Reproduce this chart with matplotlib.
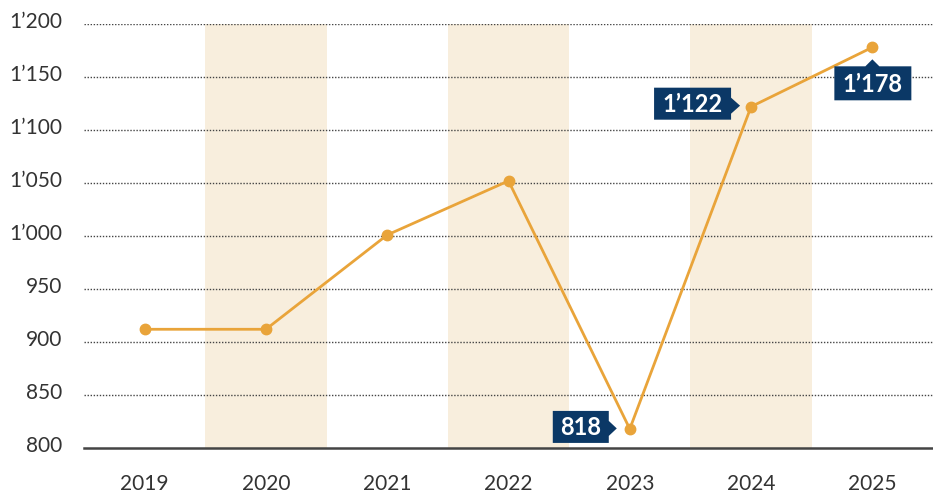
import matplotlib
matplotlib.use("Agg")
import matplotlib.pyplot as plt
import matplotlib.transforms as mtrans
from matplotlib.patches import Polygon
from matplotlib.transforms import ScaledTranslation

years = ["2019", "2020", "2021", "2022", "2023", "2024", "2025"]
values = [912, 912, 1001, 1052, 818, 1122, 1178]
yticks = [800, 850, 900, 950, 1000, 1050, 1100, 1150, 1200]
ytick_labels = ["800", "850", "900", "950", "1\u2019000", "1\u2019050", "1\u2019100", "1\u2019150", "1\u2019200"]
labelled = {4: "818", 5: "1\u2019122", 6: "1\u2019178"}

plt.rcParams['font.family'] = ['Lato', 'DejaVu Sans']

fig = plt.figure(figsize=(9.33, 4.93), dpi=100)
ax = fig.add_axes([84/933, 1 - 448/493, 849/933, 424/493])

line_c = "#E9A43A"
band_c = "#F8EEDD"
navy = "#0B3866"
text_c = "#333333"

x = list(range(len(years)))
for i in x:
    if i % 2 == 1:
        ax.axvspan(i - 0.5, i + 0.5, color=band_c, lw=0, zorder=0)

for t in yticks[1:]:
    ax.axhline(t, color="#444444", lw=1.0, ls=(0, (1, 1.2)), zorder=1)

ax.plot(x, values, color=line_c, lw=2, marker="o", ms=7.5, zorder=3)

ax.set_xlim(-0.5, len(years) - 0.5)
ax.set_ylim(800, 1200)
ax.set_xticks(x)
ax.set_xticklabels(years)
ax.set_yticks(yticks)
ax.set_yticklabels(ytick_labels)
ax.tick_params(axis="both", length=0, labelsize=15, colors=text_c)
ax.tick_params(axis="x", pad=19)
ax.tick_params(axis="y", pad=16)
for lbl in ax.get_yticklabels():
    lbl.set_transform(lbl.get_transform() + ScaledTranslation(0, 4/100, fig.dpi_scale_trans))
for s in ["top", "right", "left"]:
    ax.spines[s].set_visible(False)
ax.spines["bottom"].set_color("#444444")
ax.spines["bottom"].set_linewidth(1.8)

# callout shapes in pixel offsets from the data point (display coords, y up)
shapes = {
    4: [(-77, -14), (-21, -14), (-21, -7), (-13, 0.5), (-21, 8), (-21, 18), (-77, 18)],
    5: [(-97, -13), (-20, -13), (-20, -7), (-11, 1), (-20, 9), (-20, 19), (-97, 19)],
    6: [(-38, -53), (39, -53), (39, -19), (7, -19), (0, -12), (-7, -19), (-38, -19)],
}
centres = {4: (-49, 2), 5: (-58.5, 3), 6: (0.5, -36)}
fs = 17
cap = 0.72 * fs * 100 / 72
for i, txt in labelled.items():
    tr = mtrans.IdentityTransform() + ScaledTranslation(i, values[i], ax.transData)
    ax.add_patch(Polygon(shapes[i], closed=True, fc=navy, ec="none", transform=tr,
                         zorder=5, clip_on=False))
    cx, cy = centres[i]
    ax.annotate(txt, (i, values[i]), xytext=(cx * 0.72, (cy - cap / 2) * 0.72),
                textcoords="offset points", ha="center", va="baseline", color="white",
                fontsize=fs, fontweight="bold", zorder=6)

fig.savefig("out.png", dpi=100)
